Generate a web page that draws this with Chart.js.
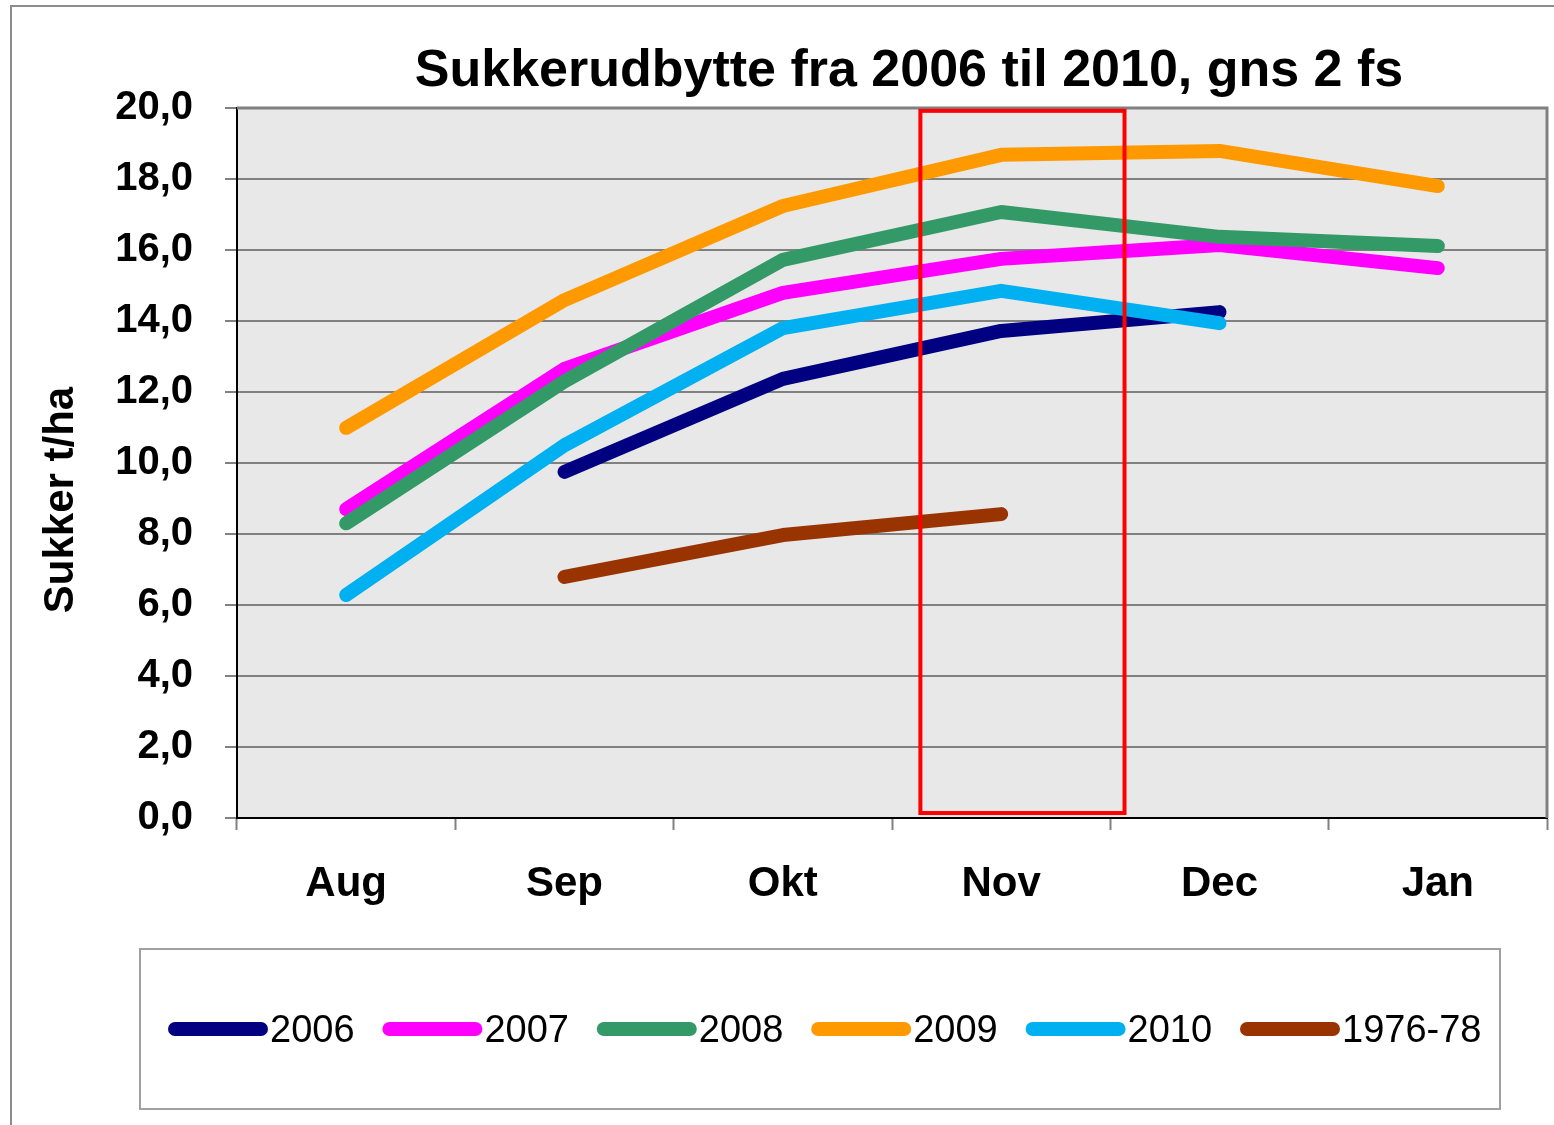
<!DOCTYPE html>
<html>
<head>
<meta charset="utf-8">
<script src="https://cdn.jsdelivr.net/npm/chart.js@4/dist/chart.umd.min.js"></script>
<style>
  html, body { margin: 0; padding: 0; background: #fff; }
  #wrap { width: 1554px; height: 1125px; }
</style>
</head>
<body>
<div id="wrap"><canvas id="sukker" width="1554" height="1125"></canvas></div>
<script>
const months = ['Aug', 'Sep', 'Okt', 'Nov', 'Dec', 'Jan'];
const seriesNames = ['2006', '2007', '2008', '2009', '2010', '1976-78'];
const seriesColors = ['#000080', '#ff00ff', '#339966', '#ff9900', '#00b0f0', '#993300'];

const y2006 = [null, 9.75, 12.37, 13.72, 14.25, null];
const y2007 = [8.7, 12.65, 14.79, 15.75, 16.14, 15.49];
const y2008 = [8.3, 12.3, 15.72, 17.07, 16.37, 16.11];
const y2009 = [10.99, 14.59, 17.24, 18.68, 18.79, 17.8];
const y2010 = [6.28, 10.5, 13.8, 14.85, 13.94, null];
const y1976 = [null, 6.79, 7.97, 8.56, null, null];
const seriesValues = [y2006, y2007, y2008, y2009, y2010, y1976];

const yTicksMin = 0, yTicksMax = 20, yStep = 2;

// highlight box round "Nov" (category offsets, value range)
const highlight = { cat: 3, from: -0.37, to: 0.565, yLow: 0.14, yHigh: 19.92 };

const font = 'Liberation Sans, Arial, sans-serif';

const decor = {
    id: 'decor',
    beforeDraw(chart) {
        const { ctx, chartArea: a } = chart;
        ctx.save();
        ctx.fillStyle = '#e8e8e8';
        ctx.fillRect(a.left, a.top, a.right - a.left, a.bottom - a.top);
        // outer frame
        ctx.strokeStyle = '#8c8c8c';
        ctx.lineWidth = 2;
        ctx.beginPath();
        ctx.moveTo(11, 1125);
        ctx.lineTo(11, 6);
        ctx.lineTo(1554, 6);
        ctx.stroke();
        ctx.restore();
    },
    beforeDatasetsDraw(chart) {
        const { ctx, chartArea: a } = chart;
        ctx.save();
        ctx.strokeStyle = '#808080';
        ctx.lineWidth = 3;
        ctx.beginPath();
        ctx.moveTo(a.left, a.top);
        ctx.lineTo(a.right, a.top);
        ctx.lineTo(a.right, a.bottom);
        ctx.stroke();
        ctx.restore();
    },
    afterDatasetsDraw(chart) {
        const { ctx, chartArea: a, scales } = chart;
        const x = scales.x, y = scales.y;
        const w = x.getPixelForValue(1) - x.getPixelForValue(0);
        const c = x.getPixelForValue(highlight.cat);
        const l = c + highlight.from * w, r = c + highlight.to * w;
        const t = y.getPixelForValue(highlight.yHigh), b = y.getPixelForValue(highlight.yLow);
        ctx.save();
        ctx.strokeStyle = '#ff0000';
        ctx.lineWidth = 4;
        ctx.strokeRect(l, t, r - l, b - t);

        // title
        ctx.fillStyle = '#000';
        ctx.font = 'bold 52px ' + font;
        ctx.textAlign = 'center';
        ctx.textBaseline = 'alphabetic';
        ctx.fillText('Sukkerudbytte fra 2006 til 2010, gns 2 fs', (a.left + a.right) / 2 + 17, 86);

        // y axis title
        ctx.save();
        ctx.translate(73, 500);
        ctx.rotate(-Math.PI / 2);
        ctx.font = 'bold 42px ' + font;
        ctx.fillText('Sukker t/ha', 0, 0);
        ctx.restore();

        // legend
        ctx.strokeStyle = '#a0a0a0';
        ctx.lineWidth = 2;
        ctx.strokeRect(140, 949, 1360, 160);
        ctx.font = '38px ' + font;
        ctx.textAlign = 'left';
        ctx.lineCap = 'round';
        let lx = 175;
        seriesNames.forEach((name, i) => {
            ctx.strokeStyle = seriesColors[i];
            ctx.lineWidth = 14;
            ctx.beginPath();
            ctx.moveTo(lx, 1029);
            ctx.lineTo(lx + 86, 1029);
            ctx.stroke();
            ctx.fillStyle = '#000';
            ctx.fillText(name, lx + 95, 1042);
            lx += 214.4;
        });
        ctx.restore();
    }
};

const datasets = seriesNames.map((name, i) => ({
    label: name,
    data: seriesValues[i],
    borderColor: seriesColors[i],
    backgroundColor: seriesColors[i],
    borderWidth: 14,
    borderCapStyle: 'round',
    borderJoinStyle: 'round',
    pointRadius: 0,
    tension: 0,
    fill: false,
    order: seriesNames.length - i
}));

new Chart(document.getElementById('sukker').getContext('2d'), {
    type: 'line',
    data: { labels: months, datasets: datasets },
    plugins: [decor],
    options: {
        responsive: false,
        animation: false,
        layout: { padding: { left: 30, right: 7, top: 108, bottom: 207 } },
        plugins: {
            legend: { display: false },
            title: { display: false },
            tooltip: { enabled: false }
        },
        scales: {
            x: {
                offset: true,
                afterFit: (s) => { s.height = 100; },
                grid: {
                    offset: true,
                    drawOnChartArea: false,
                    drawTicks: true,
                    tickLength: 12,
                    tickColor: '#808080',
                    tickWidth: 2
                },
                border: { color: '#000', width: 2 },
                ticks: {
                    color: '#000',
                    padding: 29,
                    font: { family: font, size: 42, weight: 'bold' }
                }
            },
            y: {
                min: yTicksMin,
                max: yTicksMax,
                afterFit: (s) => { s.width = 207; },
                grid: {
                    color: '#808080',
                    lineWidth: 2,
                    tickLength: 12,
                    tickColor: '#808080'
                },
                border: { color: '#000', width: 2 },
                ticks: {
                    stepSize: yStep,
                    color: '#000',
                    padding: 32,
                    font: { family: font, size: 40, weight: 'bold' },
                    callback: (v) => v.toFixed(1).replace('.', ',')
                }
            }
        }
    }
});
</script>
</body>
</html>
